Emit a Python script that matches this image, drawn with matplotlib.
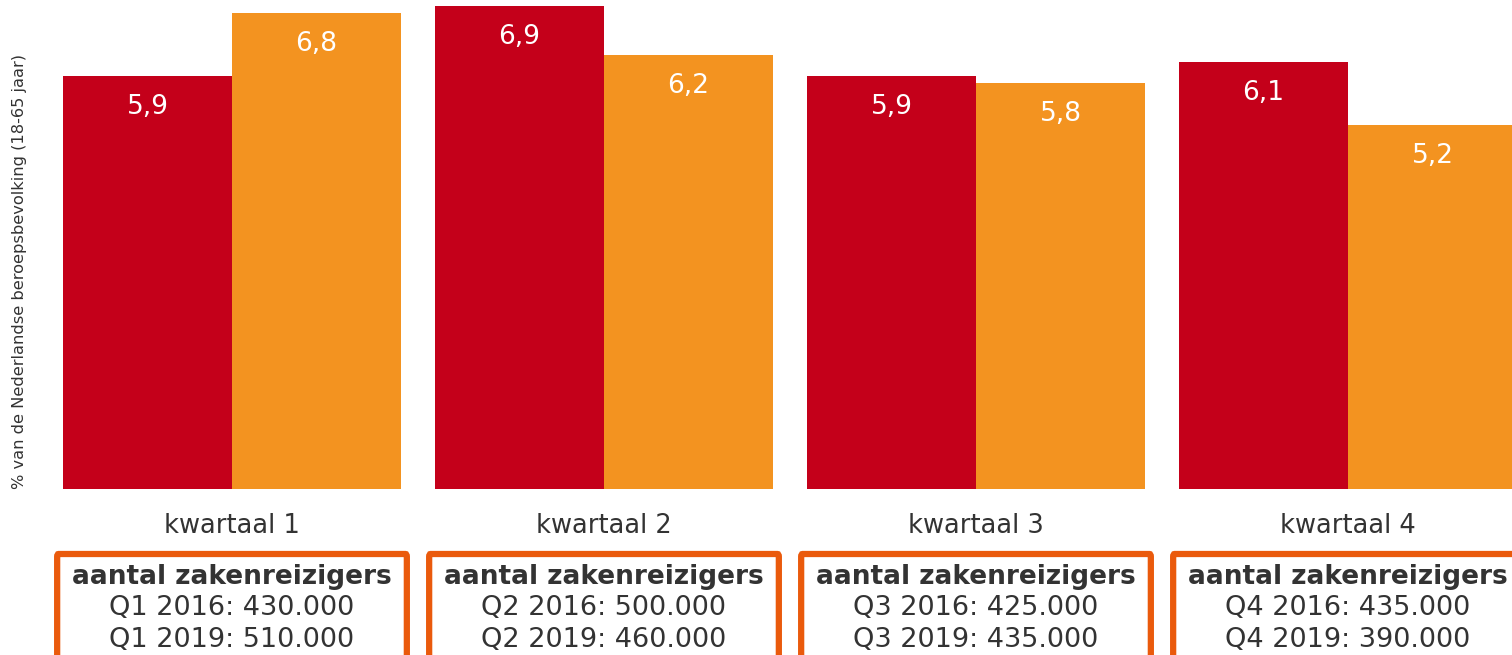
import numpy as np
import matplotlib
matplotlib.use('Agg')
import matplotlib.pyplot as plt
from matplotlib.patches import FancyBboxPatch
from matplotlib.transforms import blended_transform_factory

# data
kwartalen = ['kwartaal 1', 'kwartaal 2', 'kwartaal 3', 'kwartaal 4']
pct_2016 = [5.9, 6.9, 5.9, 6.1]
pct_2019 = [6.8, 6.2, 5.8, 5.2]
reizigers_2016 = ['430.000', '500.000', '425.000', '435.000']
reizigers_2019 = ['510.000', '460.000', '435.000', '390.000']

rood = '#C4001A'
oranje = '#F39320'
rand = '#EA5A0C'
tekst = '#333333'

W, H = 1512, 655
fig = plt.figure(figsize=(W / 100, H / 100), dpi=100)
ax = fig.add_axes([46 / W, (H - 489) / H, 1488 / W, 489 / H])

x = np.arange(len(kwartalen))
bw = 169 / 372
b1 = ax.bar(x - bw / 2, pct_2016, bw, color=rood)
b2 = ax.bar(x + bw / 2, pct_2019, bw, color=oranje)

for bars, vals in ((b1, pct_2016), (b2, pct_2019)):
    for b, v in zip(bars, vals):
        ax.text(b.get_x() + b.get_width() / 2, v - 0.44, f'{v:.1f}'.replace('.', ','),
                ha='center', va='center', color='white', fontsize=19)

ax.set_xlim(-0.5, 3.5)
ax.set_ylim(0, 489 / 70)
ax.set_xticks(x)
ax.set_xticklabels(kwartalen, fontsize=18.5, color=tekst)
ax.tick_params(axis='x', length=0, pad=17)
ax.set_yticks([])
for s in ax.spines.values():
    s.set_visible(False)

fig.text(20 / W, 1 - 272 / H, '% van de Nederlandse beroepsbevolking (18-65 jaar)',
         rotation=90, ha='center', va='center', fontsize=11.7, color=tekst)

# kaders met aantallen
tr = blended_transform_factory(ax.transData, fig.transFigure)
for i in range(len(kwartalen)):
    box = FancyBboxPatch((i - 0.47, -0.2), 0.94, (H - 554) / H + 0.2,
                         boxstyle='round,pad=0,rounding_size=0.004',
                         transform=tr, clip_on=False, facecolor='white',
                         edgecolor=rand, linewidth=4.5)
    fig.add_artist(box)
    fig.text(i, 1 - 577 / H, 'aantal zakenreizigers', transform=tr, ha='center',
             va='center', fontsize=19, fontweight='bold', color=tekst)
    fig.text(i, 1 - 608 / H, f'Q{i + 1} 2016: {reizigers_2016[i]}', transform=tr,
             ha='center', va='center', fontsize=19.5, color=tekst)
    fig.text(i, 1 - 640 / H, f'Q{i + 1} 2019: {reizigers_2019[i]}', transform=tr,
             ha='center', va='center', fontsize=19.5, color=tekst)

fig.savefig('out.png', dpi=100)
